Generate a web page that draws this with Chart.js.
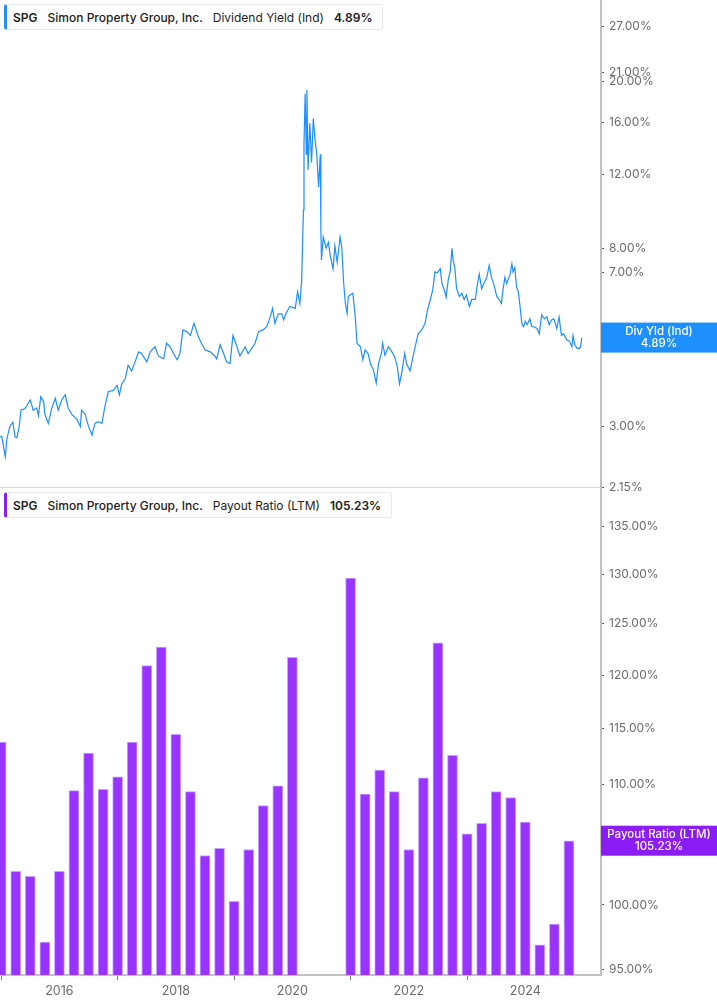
<!DOCTYPE html>
<html>
<head>
<meta charset="utf-8">
<script src="https://cdn.jsdelivr.net/npm/chart.js@4.4.1/dist/chart.umd.min.js"></script>
<style>
  body { margin: 0; background: #fff; font-family: Inter, "Noto Sans", sans-serif; }
  #wrap { position: relative; width: 717px; height: 1005px; overflow: hidden; }
  canvas { position: absolute; left: 0; }
  #yieldChart { top: 0; z-index: 2; }
  #payoutChart { top: 487px; z-index: 1; }
  .legend {
    position: absolute; left: 4px; height: 24px; display: flex; align-items: center; gap: 10px;
    padding: 0 10px 0 6px; background: #fff; border: 1px solid #e8e8e8; border-radius: 3px;
    font-size: 12px; color: #222; white-space: nowrap; box-sizing: content-box; z-index: 3;
  }
  .legend b { font-weight: 600; }
  .legend .co { font-weight: 500; }
  .legend .m { font-weight: 400; }
</style>
</head>
<body>
<div id="wrap">
  <canvas id="yieldChart" width="717" height="500"></canvas>
  <canvas id="payoutChart" width="717" height="518"></canvas>
  <div class="legend" style="top:4px;border-left:3px solid #1e90ff;">
    <b>SPG</b><span class="co">Simon Property Group, Inc.</span><span class="m">Dividend Yield (Ind)</span><b>4.89%</b>
  </div>
  <div class="legend" style="top:492px;border-left:3px solid #8c1cf5;">
    <b>SPG</b><span class="co">Simon Property Group, Inc.</span><span class="m">Payout Ratio (LTM)</span><b>105.23%</b>
  </div>
</div>
<script>
const yieldDates = [
  2014.98, 2015.01, 2015.07, 2015.10, 2015.15, 2015.20, 2015.24, 2015.27, 2015.31, 2015.34,
  2015.41, 2015.50, 2015.55, 2015.61, 2015.64, 2015.68, 2015.73, 2015.75, 2015.81, 2015.87,
  2015.93, 2015.98, 2016.04, 2016.10, 2016.15, 2016.21, 2016.30, 2016.36, 2016.38, 2016.44,
  2016.50, 2016.56, 2016.61, 2016.67, 2016.73, 2016.78, 2016.84, 2016.93, 2016.99, 2017.03,
  2017.07, 2017.13, 2017.18, 2017.24, 2017.30, 2017.36, 2017.41, 2017.50, 2017.56, 2017.64,
  2017.70, 2017.79, 2017.84, 2017.90, 2017.96, 2018.02, 2018.07, 2018.12, 2018.19, 2018.25,
  2018.31, 2018.39, 2018.44, 2018.50, 2018.59, 2018.67, 2018.70, 2018.76, 2018.82, 2018.87,
  2018.93, 2018.98, 2019.05, 2019.10, 2019.19, 2019.24, 2019.30, 2019.36, 2019.42, 2019.50,
  2019.56, 2019.62, 2019.66, 2019.70, 2019.76, 2019.82, 2019.85, 2019.90, 2019.96, 2020.05,
  2020.09, 2020.13, 2020.16, 2020.19, 2020.20, 2020.22, 2020.24, 2020.25, 2020.27, 2020.30,
  2020.33, 2020.36, 2020.39, 2020.42, 2020.45, 2020.48, 2020.49, 2020.50, 2020.53, 2020.58,
  2020.62, 2020.65, 2020.70, 2020.73, 2020.77, 2020.82, 2020.85, 2020.88, 2020.91, 2020.94,
  2020.96, 2020.99, 2021.04, 2021.08, 2021.11, 2021.17, 2021.21, 2021.25, 2021.30, 2021.35,
  2021.39, 2021.44, 2021.48, 2021.53, 2021.55, 2021.59, 2021.65, 2021.71, 2021.76, 2021.80,
  2021.84, 2021.88, 2021.93, 2021.96, 2022.02, 2022.07, 2022.11, 2022.16, 2022.22, 2022.28,
  2022.32, 2022.37, 2022.41, 2022.45, 2022.49, 2022.54, 2022.57, 2022.61, 2022.64, 2022.68,
  2022.71, 2022.74, 2022.76, 2022.79, 2022.82, 2022.87, 2022.91, 2022.95, 2022.99, 2023.04,
  2023.08, 2023.14, 2023.18, 2023.21, 2023.25, 2023.29, 2023.34, 2023.38, 2023.42, 2023.46,
  2023.51, 2023.55, 2023.59, 2023.62, 2023.65, 2023.68, 2023.74, 2023.77, 2023.79, 2023.82,
  2023.85, 2023.88, 2023.91, 2023.94, 2023.97, 2024.00, 2024.03, 2024.08, 2024.11, 2024.15,
  2024.20, 2024.24, 2024.28, 2024.33, 2024.37, 2024.41, 2024.45, 2024.49, 2024.54, 2024.58,
  2024.62, 2024.66, 2024.71, 2024.76, 2024.80, 2024.82, 2024.85, 2024.89, 2024.93, 2024.95,
  2024.97
];
const yieldValues = [
  2.83, 2.84, 2.54, 2.81, 3.00, 3.07, 2.83, 2.82, 3.00, 3.28,
  3.31, 3.47, 3.28, 3.32, 3.18, 3.53, 3.44, 3.21, 3.05, 3.32,
  3.50, 3.28, 3.47, 3.57, 3.32, 3.21, 3.12, 3.00, 3.28, 3.21,
  3.00, 2.86, 3.05, 3.08, 3.05, 3.34, 3.63, 3.66, 3.76, 3.57,
  3.79, 3.90, 4.20, 4.07, 4.28, 4.52, 4.48, 4.28, 4.52, 4.65,
  4.42, 4.35, 4.74, 4.65, 4.48, 4.33, 4.48, 5.10, 5.05, 4.95,
  5.29, 4.90, 4.74, 4.57, 4.52, 4.42, 4.35, 4.70, 4.48, 4.28,
  4.24, 4.95, 4.65, 4.42, 4.65, 4.48, 4.60, 4.74, 5.06, 5.10,
  5.19, 5.48, 5.74, 5.29, 5.57, 5.57, 5.39, 5.62, 5.80, 5.74,
  6.29, 5.90, 6.71, 9.86, 14.2, 18.7, 13.4, 19.1, 12.3, 15.9,
  12.8, 16.3, 14.5, 13.4, 11.2, 13.4, 8.83, 7.49, 8.50, 8.00,
  8.26, 7.67, 7.13, 8.10, 7.40, 8.50, 8.00, 6.64, 5.90, 5.59,
  6.13, 6.18, 6.24, 5.48, 4.74, 4.65, 4.33, 4.57, 4.48, 4.20,
  4.11, 3.81, 4.24, 4.48, 4.74, 4.44, 4.65, 4.52, 4.39, 4.18,
  3.79, 4.04, 4.48, 4.24, 4.07, 4.39, 4.65, 4.99, 5.10, 5.29,
  5.68, 6.03, 6.35, 7.02, 6.98, 7.14, 6.58, 6.35, 6.10, 6.77,
  7.02, 7.99, 7.49, 7.18, 6.40, 6.13, 6.24, 6.03, 6.18, 5.80,
  6.03, 6.03, 6.58, 6.93, 6.40, 6.58, 6.81, 7.27, 6.81, 6.55,
  6.13, 6.03, 5.90, 6.40, 6.81, 6.58, 6.93, 7.33, 7.02, 7.18,
  6.46, 6.30, 5.80, 5.29, 5.19, 5.35, 5.25, 5.42, 5.19, 5.19,
  5.14, 4.99, 5.54, 5.42, 5.48, 5.25, 5.39, 5.42, 5.14, 5.48,
  4.95, 4.99, 4.83, 4.79, 4.65, 4.95, 4.70, 4.61, 4.61, 4.65,
  4.89
];
const yieldTicks = [2.15, 3, 5, 7, 8, 12, 16, 20, 21, 27];

const payoutDates = [
  2015.00, 2015.25, 2015.50, 2015.75, 2016.00, 2016.25, 2016.50, 2016.75,
  2017.00, 2017.25, 2017.50, 2017.75, 2018.00, 2018.25, 2018.50, 2018.75,
  2019.00, 2019.25, 2019.50, 2019.75, 2020.00,
  2021.00, 2021.25, 2021.50, 2021.75, 2022.00, 2022.25, 2022.50, 2022.75,
  2023.00, 2023.25, 2023.50, 2023.75, 2024.00, 2024.25, 2024.50, 2024.75
];
const payoutValues = [
  113.8, 102.7, 102.3, 97.1, 102.7, 109.5, 112.8, 109.6,
  110.7, 113.8, 120.9, 122.7, 114.5, 109.4, 104.0, 104.6,
  100.3, 104.5, 108.2, 109.9, 121.7,
  129.6, 109.2, 111.3, 109.4, 104.5, 110.6, 123.1, 112.6,
  105.8, 106.7, 109.4, 108.9, 106.8, 96.9, 98.5, 105.23
];
const payoutTicks = [95, 100, 105, 110, 115, 120, 125, 130, 135];
const yearTicks = [2016, 2018, 2020, 2022, 2024];

const xMin = 2014.98, xMax = 2025.30;
const axisGrey = '#c2c2c2';
const labelGrey = '#6b6b6b';

Chart.defaults.font.family = 'Inter, "Noto Sans", sans-serif';
Chart.defaults.font.size = 12;
Chart.defaults.color = labelGrey;

function fixedTicks(list) {
  return function(scale) { scale.ticks = list.map(v => ({ value: v })); };
}

function rightAxis(min, max, ticks) {
  return {
    type: 'logarithmic',
    position: 'right',
    min: min,
    max: max,
    afterBuildTicks: fixedTicks(ticks),
    afterFit: function(scale) { scale.width = 116; scale.paddingTop = 0; scale.paddingBottom = 0; },
    border: { display: true, color: axisGrey, width: 2 },
    grid: { display: true, drawOnChartArea: false, tickLength: 3, tickColor: '#555', tickWidth: 1 },
    ticks: {
      padding: 5,
      color: labelGrey,
      font: { size: 12 },
      callback: v => Number(v).toFixed(2) + '%'
    }
  };
}

// value box on the right axis at the last value
function lastValueBox(label, valueText, value, color) {
  return {
    id: 'lastBox',
    afterDraw(chart) {
      const ctx = chart.ctx;
      const y = chart.scales.y.getPixelForValue(value);
      const left = chart.chartArea.right;
      const right = chart.width;
      ctx.save();
      ctx.fillStyle = color;
      ctx.fillRect(left, y - 15, right - left, 30);
      ctx.fillStyle = '#fff';
      ctx.textAlign = 'center';
      ctx.textBaseline = 'middle';
      ctx.font = '500 11.5px Inter, "Noto Sans", sans-serif';
      ctx.fillText(label, (left + right) / 2, y - 6);
      ctx.fillText(valueText, (left + right) / 2, y + 6);
      ctx.restore();
    }
  };
}

new Chart(document.getElementById('yieldChart'), {
  type: 'line',
  data: {
    datasets: [{
      data: yieldDates.map((d, i) => ({ x: d, y: yieldValues[i] })),
      borderColor: '#1e8fff',
      borderWidth: 1.2,
      pointRadius: 0,
      tension: 0
    }]
  },
  options: {
    responsive: false,
    animation: false,
    layout: { padding: 0 },
    plugins: { legend: { display: false }, tooltip: { enabled: false } },
    scales: {
      x: {
        type: 'linear',
        min: xMin,
        max: xMax,
        afterFit: function(scale) { scale.height = 13; scale.paddingLeft = 0; scale.paddingRight = 0; },
        border: { display: true, color: '#dddddd', width: 1 },
        grid: { display: false },
        ticks: { display: false }
      },
      y: rightAxis(2.15, 31.3, yieldTicks)
    }
  },
  plugins: [lastValueBox('Div Yld (Ind)', '4.89%', 4.89, '#1e8fff')]
});

new Chart(document.getElementById('payoutChart'), {
  type: 'bar',
  data: {
    datasets: [{
      data: payoutDates.map((d, i) => ({ x: d, y: payoutValues[i] })),
      backgroundColor: '#9933ff',
      borderColor: '#c9a3ff',
      borderWidth: 1,
      barThickness: 10,
      clip: 0
    }]
  },
  options: {
    responsive: false,
    animation: false,
    layout: { padding: 0 },
    plugins: { legend: { display: false }, tooltip: { enabled: false } },
    scales: {
      x: {
        type: 'linear',
        min: xMin,
        max: xMax,
        offset: false,
        afterBuildTicks: fixedTicks(yearTicks),
        afterFit: function(scale) { scale.height = 30; scale.paddingLeft = 0; scale.paddingRight = 0; },
        border: { display: true, color: axisGrey, width: 2 },
        grid: {
          display: true, drawOnChartArea: false, tickLength: 5, tickWidth: 1,
          tickColor: c => (c.tick && yearTicks.includes(c.tick.value)) ? '#777' : 'rgba(0,0,0,0)'
        },
        ticks: {
          padding: 4,
          color: labelGrey,
          font: { size: 12.5 },
          callback: v => String(v)
        }
      },
      y: rightAxis(94.6, 139.3, payoutTicks)
    }
  },
  plugins: [lastValueBox('Payout Ratio (LTM)', '105.23%', 105.23, '#8c1cf5')]
});
</script>
</body>
</html>
